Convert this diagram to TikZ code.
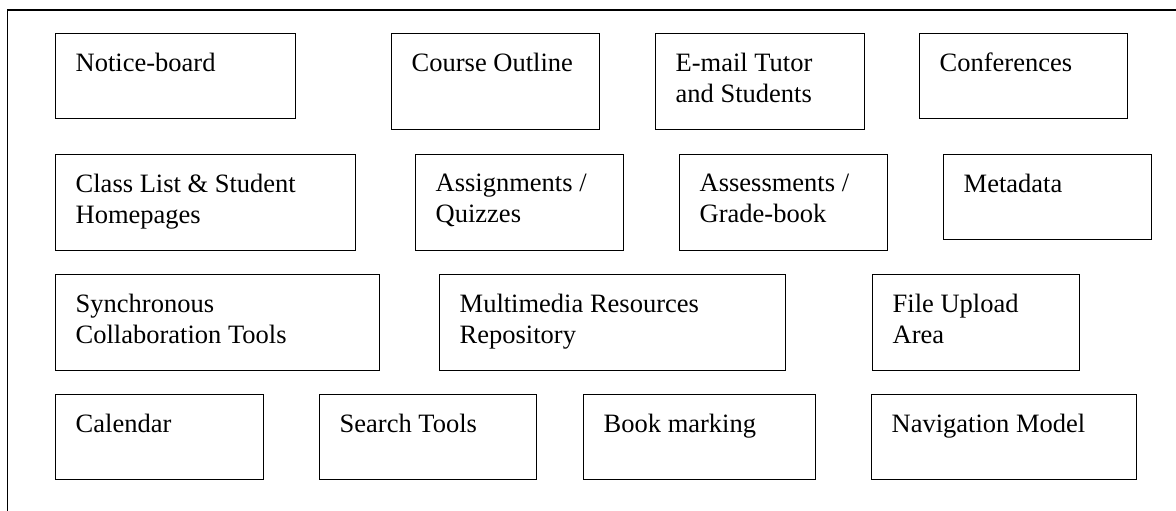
\documentclass[tikz,border=0pt]{standalone}
\usepackage{fontspec}
\setmainfont{Liberation Serif}
\begin{document}
\begin{tikzpicture}[x=1pt, y=-1pt,
  cell/.style = {draw, line width=1.3pt, rectangle, anchor=north west, inner sep=0pt},
  celltext/.style = {anchor=north west, align=left, inner xsep=20.5pt, inner ysep=19.5pt,
                     font=\fontsize{26.5}{31.5}\selectfont}]
  \useasboundingbox (0,0) rectangle (1176,511);
  \draw[line width=1.6pt] (1176,10) -- (7.5,10) -- (7.5,511);
  % row 1
  \node[cell, minimum width=240, minimum height=85, label={[celltext]north west:{Notice-board}}]   (noticeboard)   at (55,33)  {};
  \node[cell, minimum width=208, minimum height=96, label={[celltext]north west:{Course Outline}}] (courseoutline) at (391,33) {};
  \node[cell, minimum width=209, minimum height=96, label={[celltext]north west:{E-mail Tutor\\and Students}}] (emailtutor) at (655,33) {};
  \node[cell, minimum width=208, minimum height=85, label={[celltext]north west:{Conferences}}]    (conferences)   at (919,33) {};
  % row 2
  \node[cell, minimum width=300, minimum height=96, label={[celltext]north west:{Class List \& Student\\Homepages}}] (classlist) at (55,154) {};
  \node[cell, minimum width=208, minimum height=96, label={[celltext]north west:{Assignments /\\Quizzes}}]  (assignments) at (415,154) {};
  \node[cell, minimum width=208, minimum height=96, label={[celltext]north west:{Assessments /\\Grade-book}}] (assessments) at (679,154) {};
  \node[cell, minimum width=208, minimum height=85, label={[celltext]north west:{Metadata}}]     (metadata)    at (943,154) {};
  % row 3
  \node[cell, minimum width=324, minimum height=96, label={[celltext]north west:{Synchronous\\Collaboration Tools}}] (synchronous) at (55,274) {};
  \node[cell, minimum width=346, minimum height=96, label={[celltext]north west:{Multimedia Resources\\Repository}}]  (multimedia)  at (439,274) {};
  \node[cell, minimum width=207, minimum height=96, label={[celltext]north west:{File Upload\\Area}}]                (fileupload)  at (872,274) {};
  % row 4
  \node[cell, minimum width=208, minimum height=85, label={[celltext]north west:{Calendar}}]         (calendar)    at (55,394)  {};
  \node[cell, minimum width=217, minimum height=85, label={[celltext]north west:{Search Tools}}]     (searchtools) at (319,394) {};
  \node[cell, minimum width=232, minimum height=85, label={[celltext]north west:{Book marking}}]     (bookmarking) at (583,394) {};
  \node[cell, minimum width=265, minimum height=85, label={[celltext]north west:{Navigation Model}}] (navigation)  at (871,394) {};
\end{tikzpicture}
\end{document}
